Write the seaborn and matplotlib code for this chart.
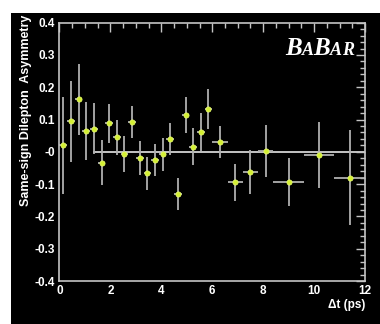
import matplotlib
matplotlib.use("Agg")
import matplotlib.pyplot as plt
import numpy as np
import pandas as pd
import seaborn as sns
from matplotlib.patches import Rectangle
from matplotlib.ticker import FixedLocator, FixedFormatter, MultipleLocator

# Binned same-sign dilepton asymmetry versus decay-time difference
dt_center = [0.15, 0.45, 0.75, 1.05, 1.35, 1.65, 1.95, 2.25, 2.55, 2.85,
             3.15, 3.45, 3.75, 4.05, 4.35, 4.65, 4.95, 5.25, 5.55, 5.85,
             6.3, 6.9, 7.5, 8.1, 9.0, 10.2, 11.4]
dt_halfwidth = [0.15] * 20 + [0.3, 0.3, 0.3, 0.3, 0.6, 0.6, 0.6]
asym = [0.021, 0.095, 0.163, 0.064, 0.072, -0.033, 0.088, 0.045, -0.006, 0.093,
        -0.019, -0.067, -0.025, -0.008, 0.040, -0.131, 0.114, 0.016, 0.062, 0.134,
        0.030, -0.094, -0.062, 0.002, -0.094, -0.010, -0.080]
asym_err = [0.15, 0.125, 0.11, 0.09, 0.08, 0.07, 0.06, 0.055, 0.055, 0.05,
            0.052, 0.05, 0.05, 0.05, 0.05, 0.05, 0.055, 0.057, 0.058, 0.062,
            0.05, 0.057, 0.067, 0.08, 0.075, 0.103, 0.147]

x_ticks = [0, 2, 4, 6, 8, 10, 12]
x_tick_labels = ["0", "2", "4", "6", "8", "10", "12"]
y_ticks = [-0.4, -0.3, -0.2, -0.1, 0.0, 0.1, 0.2, 0.3, 0.4]
y_tick_labels = ["-0.4", "-0.3", "-0.2", "-0.1", "-0", "0.1", "0.2", "0.3", "0.4"]
zero_line_start = 1.3

df = pd.DataFrame({"dt": dt_center, "asym": asym})

sns.set_style("dark", {"axes.facecolor": "black", "figure.facecolor": "white"})
plt.rcParams["font.family"] = ["Liberation Sans", "DejaVu Sans"]

fig = plt.figure(figsize=(3.8, 3.24), dpi=100, facecolor="white")
fig.add_artist(Rectangle((11 / 380, 0), 1 - 11 / 380, 1 - 13 / 324,
                         transform=fig.transFigure, facecolor="black",
                         edgecolor="none", zorder=-10))

ax = fig.add_axes([59.5 / 380, 43 / 324, (365 - 59.5) / 380, (281 - 22.7) / 324])
ax.set_facecolor("black")

frame_col = "#c4c4c4"
ax.hlines(0, zero_line_start, 12, color=frame_col, lw=1.4, zorder=1)
ax.errorbar(dt_center, asym, xerr=dt_halfwidth, yerr=asym_err, fmt="none",
            ecolor="#b0b0b0", elinewidth=1.3, capsize=0, zorder=2)
sns.scatterplot(data=df, x="dt", y="asym", ax=ax, color="#d4f032", s=14,
                edgecolor="#eaff70", linewidth=0.5, zorder=3, legend=False)

ax.set_xlim(0, 12)
ax.set_ylim(-0.4, 0.4)
ax.xaxis.set_major_locator(FixedLocator(x_ticks))
ax.xaxis.set_major_formatter(FixedFormatter(x_tick_labels))
ax.xaxis.set_minor_locator(MultipleLocator(0.5))
ax.yaxis.set_major_locator(FixedLocator(y_ticks))
ax.yaxis.set_major_formatter(FixedFormatter(y_tick_labels))
ax.yaxis.set_minor_locator(MultipleLocator(0.02))

ax.tick_params(which="both", direction="in", top=True, right=True,
               color=frame_col, labelcolor="white", width=1.0)
ax.tick_params(which="major", length=6.3, labelsize=8.5, pad=3)
ax.tick_params(which="minor", length=3.6)
for lab in ax.get_xticklabels() + ax.get_yticklabels():
    lab.set_fontweight("bold")
for sp in ax.spines.values():
    sp.set_color(frame_col)
    sp.set_linewidth(1.2)
ax.grid(False)

ax.set_xlabel("")
ax.set_ylabel("")
fig.text(26 / 380, 1 - 110 / 324, "Same-sign Dilepton  Asymmetry", rotation=90,
         ha="center", va="center", color="white", fontsize=9, fontweight="bold")
fig.text(365 / 380, 1 - 305 / 324, "\u0394t (ps)", ha="right", va="center",
         color="white", fontsize=8.5, fontweight="bold")

# BaBar logotype: large and small capitals set side by side
renderer = fig.canvas.get_renderer()
x_px = 285.0
base_px = 324 - 55.0
for ch, size in [("B", 18), ("A", 13), ("B", 18), ("A", 13), ("R", 13)]:
    t = fig.text(x_px / 380, base_px / 324, ch, ha="left", va="baseline",
                 color="white", fontsize=size, family="Liberation Serif",
                 style="italic", fontweight="bold")
    bb = t.get_window_extent(renderer)
    x_px += bb.width

fig.savefig("out.png", dpi=100, facecolor=fig.get_facecolor())
